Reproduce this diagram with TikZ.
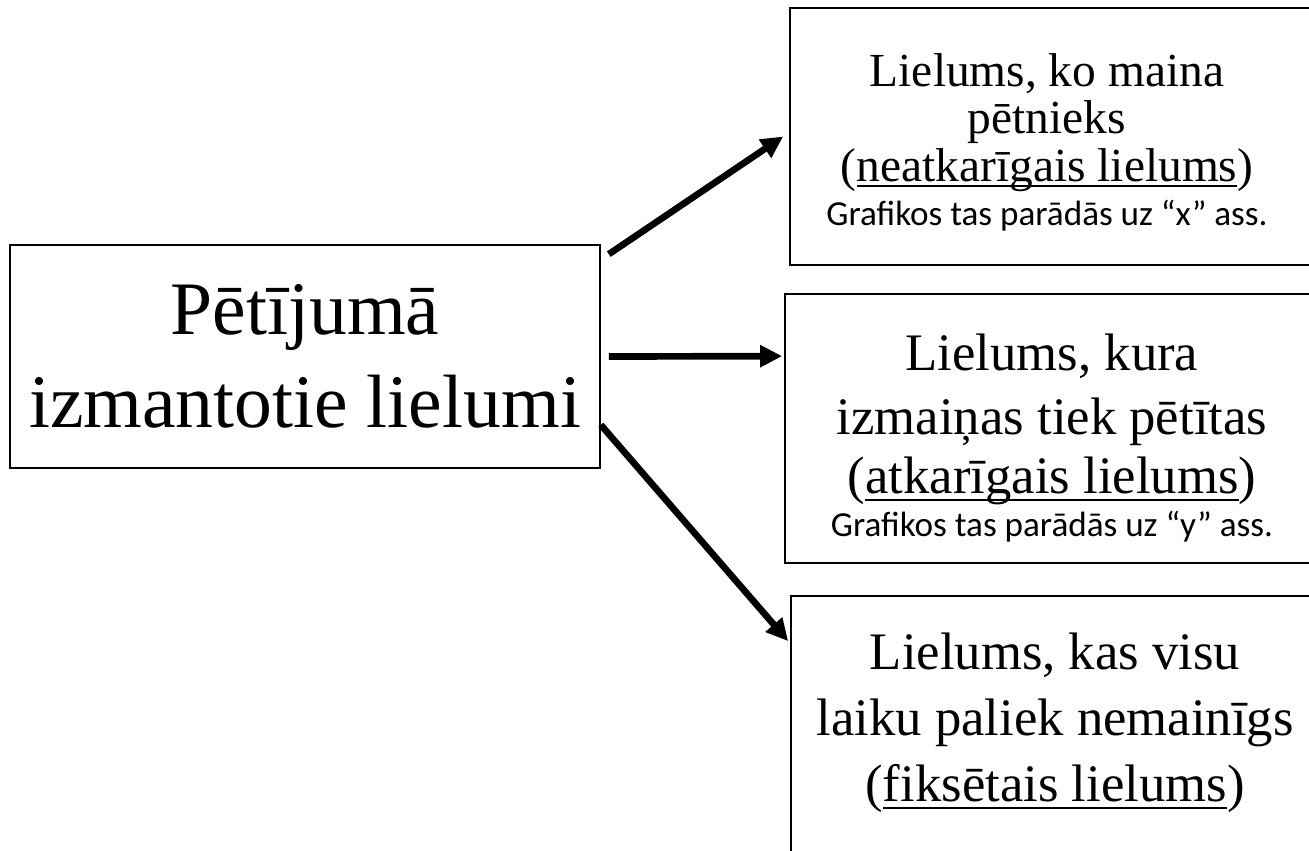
\documentclass[tikz,border=0pt]{standalone}
\usepackage{fontspec}
\setmainfont{Liberation Serif}
\newfontfamily\calibri{Carlito}
\usetikzlibrary{arrows.meta}

\newcommand{\apaksa}[1]{\setbox0\hbox{#1}\leavevmode\rlap{\raisebox{-0.13em}{\rule{\wd0}{1.1pt}}}\box0}

\tikzset{
   lielums/.style={draw, line width=1pt, align=center},
   teksts/.style={anchor=north, inner sep=0pt, align=center},
   bulta/.style={line width=3.8pt, -{Triangle[length=0.44cm,width=0.42cm]}}
}

\begin{document}
\begin{tikzpicture}[x=0.02cm,y=-0.02cm]
   \useasboundingbox (0,0) rectangle (1309,850);
   \clip (0,0) rectangle (1309,850);

   \node[name=src, style={
      lielums,
      minimum width=11.8cm,
      minimum height=4.46cm,
      font=\fontsize{43}{53}\selectfont
   }] at (305,356.5) {Pētījumā\\izmantotie lielumi};

   \node[name=t1, lielums, minimum width=10.8cm, minimum height=5.14cm] at (1060,136.5) {};
   \node[name=t2, lielums, minimum width=10.9cm, minimum height=5.38cm] at (1057.5,428.5) {};
   \node[name=t3, lielums, minimum width=10.78cm, minimum height=5.4cm] at (1060.5,731) {};

   \node[name=k1, style={
      teksts,
      font=\fontsize{27}{27}\selectfont
   }] at (1047,53) {Lielums, ko maina\\pētnieks\\(\apaksa{neatkarīgais lielums})\\[-2pt]
      {\calibri\fontsize{20}{22}\selectfont Grafikos tas parādās uz “x” ass.}};

   \node[name=k2, style={
      teksts,
      font=\fontsize{30}{34}\selectfont
   }] at (1052,334) {Lielums, kura\\[2pt]izmaiņas tiek pētītas\\(\apaksa{atkarīgais lielums})\\[-10pt]
      {\calibri\fontsize{20}{22}\selectfont Grafikos tas parādās uz “y” ass.}};

   \node[name=k3, style={
      teksts,
      font=\fontsize{30}{37.5}\selectfont
   }] at (1055,633) {Lielums, kas visu\\laiku paliek nemainīgs\\(\apaksa{fiksētais lielums})};

   \coordinate (s1) at ([xshift=0.16cm,yshift=-0.2cm]src.north east);
   \coordinate (e1) at ([xshift=-0.12cm]t1.west);
   \coordinate (s2) at ([xshift=0.16cm]src.east);
   \coordinate (e2) at ([xshift=-0.04cm,yshift=-1.26cm]t2.north west);
   \coordinate (s3) at ([yshift=0.88cm]src.south east);
   \coordinate (e3) at ([xshift=-0.04cm,yshift=-0.92cm]t3.north west);

   \foreach \i in {1,2,3}
   \draw[bulta] (s\i) -- (e\i);

\end{tikzpicture}
\end{document}
